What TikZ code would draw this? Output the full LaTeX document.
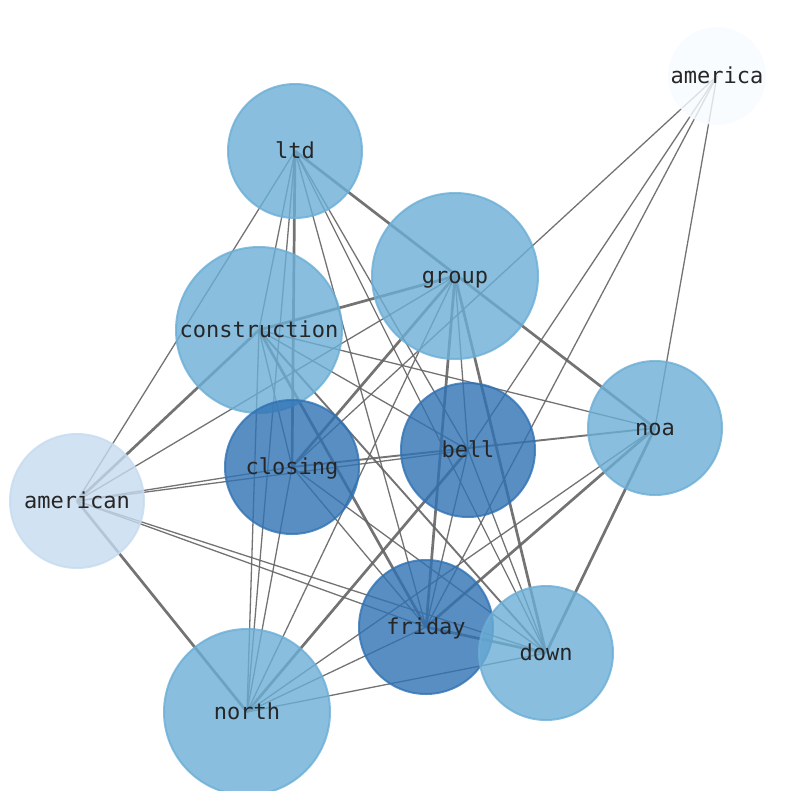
\documentclass[tikz,border=0pt]{standalone}
\usepackage{fontspec}
\newfontfamily\lblfont{DejaVu Sans Mono}
\definecolor{lightblue}{RGB}{107,174,214}
\definecolor{darkblue}{RGB}{48,114,180}
\definecolor{paleblue}{RGB}{198,219,239}
\definecolor{whiteblue}{RGB}{247,251,255}
\definecolor{edgegray}{RGB}{100,100,100}
\begin{document}
\begin{tikzpicture}[x=1pt,y=-1pt,
  thinedge/.style={draw=edgegray, line width=1.3pt, opacity=0.9},
  midedge/.style={draw=edgegray, line width=1.9pt, opacity=0.9},
  thickedge/.style={draw=edgegray, line width=2.7pt, opacity=0.9},
  blob/.style={circle, inner sep=0pt, line width=2pt, fill opacity=0.8, draw opacity=0.8},
  lightnode/.style={blob, fill=lightblue, draw=lightblue},
  darknode/.style={blob, fill=darkblue, draw=darkblue},
  palenode/.style={blob, fill=paleblue, draw=paleblue},
  whitenode/.style={blob, fill=whiteblue, draw=whiteblue},
  lbl/.style={font=\lblfont\fontsize{22}{26}\selectfont, text=black!85, inner sep=0pt, text height=0.76em, text depth=0.24em, yshift=-5pt}
]
\useasboundingbox (0,0) rectangle (794,790);
\coordinate (america) at (717,76);
\coordinate (ltd) at (295,151);
\coordinate (group) at (455,276);
\coordinate (construction) at (259,330);
\coordinate (noa) at (655,428);
\coordinate (bell) at (468,450);
\coordinate (closing) at (292,467);
\coordinate (american) at (77,501);
\coordinate (friday) at (426,627);
\coordinate (down) at (546,653);
\coordinate (north) at (247,712);

% thick edges
\draw[thickedge] (ltd) -- (noa);
\draw[thickedge] (ltd) -- (closing);
\draw[thickedge] (group) -- (construction);
\draw[thickedge] (group) -- (closing);
\draw[thickedge] (group) -- (friday);
\draw[thickedge] (group) -- (down);
\draw[thickedge] (construction) -- (american);
\draw[thickedge] (construction) -- (friday);
\draw[thickedge] (american) -- (north);
\draw[thickedge] (bell) -- (north);
\draw[thickedge] (noa) -- (friday);
\draw[thickedge] (noa) -- (down);
\draw[thickedge] (friday) -- (down);
% medium edges
\draw[midedge] (closing) -- (noa);
\draw[midedge] (construction) -- (down);
% thin edges
\draw[thinedge] (america) -- (closing);
\draw[thinedge] (america) -- (bell);
\draw[thinedge] (america) -- (friday);
\draw[thinedge] (america) -- (noa);
\draw[thinedge] (ltd) -- (american);
\draw[thinedge] (ltd) -- (construction);
\draw[thinedge] (ltd) -- (north);
\draw[thinedge] (ltd) -- (friday);
\draw[thinedge] (ltd) -- (down);
\draw[thinedge] (ltd) -- (bell);
\draw[thinedge] (group) -- (american);
\draw[thinedge] (group) -- (north);
\draw[thinedge] (group) -- (bell);
\draw[thinedge] (construction) -- (noa);
\draw[thinedge] (construction) -- (bell);
\draw[thinedge] (construction) -- (closing);
\draw[thinedge] (construction) -- (north);
\draw[thinedge] (american) -- (closing);
\draw[thinedge] (american) -- (bell);
\draw[thinedge] (american) -- (friday);
\draw[thinedge] (american) -- (down);
\draw[thinedge] (closing) -- (down);
\draw[thinedge] (closing) -- (friday);
\draw[thinedge] (north) -- (closing);
\draw[thinedge] (north) -- (friday);
\draw[thinedge] (north) -- (down);
\draw[thinedge] (noa) -- (north);
\draw[thinedge] (bell) -- (friday);
\draw[thinedge] (bell) -- (down);

% node discs
\node[whitenode, minimum size=96pt] (america-c) at (america) {};
\node[lightnode, minimum size=134pt] (ltd-c) at (ltd) {};
\node[lightnode, minimum size=166pt] (group-c) at (group) {};
\node[lightnode, minimum size=166pt] (construction-c) at (construction) {};
\node[lightnode, minimum size=134pt] (noa-c) at (noa) {};
\node[darknode, minimum size=134pt] (bell-c) at (bell) {};
\node[darknode, minimum size=134pt] (closing-c) at (closing) {};
\node[palenode, minimum size=134pt] (american-c) at (american) {};
\node[darknode, minimum size=134pt] (friday-c) at (friday) {};
\node[lightnode, minimum size=134pt] (down-c) at (down) {};
\node[lightnode, minimum size=166pt] (north-c) at (north) {};

% labels
\node[lbl] (america-l) at (america) {america};
\node[lbl] (ltd-l) at (ltd) {ltd};
\node[lbl] (group-l) at (group) {group};
\node[lbl] (construction-l) at (construction) {construction};
\node[lbl] (noa-l) at (noa) {noa};
\node[lbl] (bell-l) at (bell) {bell};
\node[lbl] (closing-l) at (closing) {closing};
\node[lbl] (american-l) at (american) {american};
\node[lbl] (friday-l) at (friday) {friday};
\node[lbl] (down-l) at (down) {down};
\node[lbl] (north-l) at (north) {north};
\end{tikzpicture}
\end{document}
